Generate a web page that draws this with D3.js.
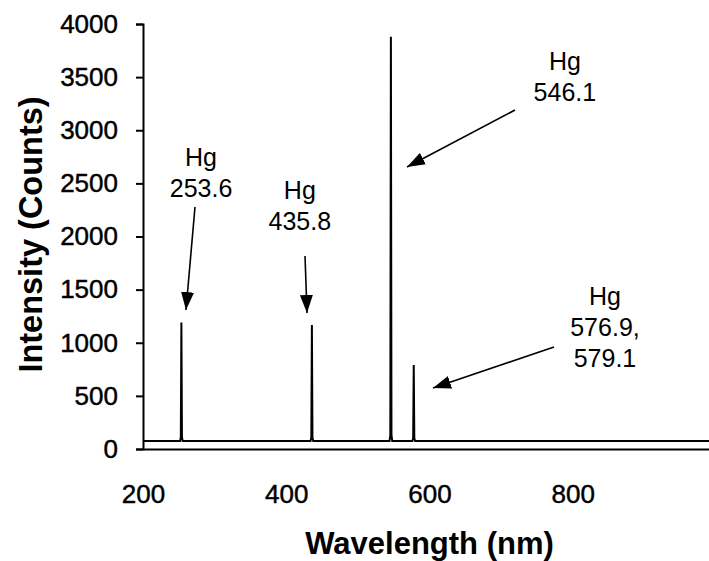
<!DOCTYPE html>
<html>
<head>
<meta charset="utf-8">
<script src="https://cdn.jsdelivr.net/npm/d3@7"></script>
<style>
  html, body { margin: 0; padding: 0; background: #fff; }
  svg { display: block; }
  text { font-family: "Liberation Sans", Arial, sans-serif; fill: #000; }
</style>
</head>
<body>
<svg id="chart" width="709" height="561"></svg>
<script>
// Mercury lamp emission spectrum: wavelength (nm) vs intensity (counts)
const wavelengths = [200, 251.8, 252.8, 253.6, 254.4, 255.4,
                     433.9, 435.0, 435.8, 436.6, 437.7,
                     544.2, 545.3, 546.1, 546.9, 548.0,
                     576.1, 577.2, 578.0, 578.8, 579.9, 1000];
const intensities = [75, 75, 110, 1190, 110, 75,
                     75, 105, 1167, 105, 75,
                     75, 130, 3880, 130, 75,
                     75, 100, 790, 100, 75, 75];

// Axis ticks
const yTicks = [0, 500, 1000, 1500, 2000, 2500, 3000, 3500, 4000];
const xTicks = [200, 400, 600, 800];

// Line annotations: label lines, label anchor and arrow (data units)
const noteLines = [["Hg", "253.6"], ["Hg", "435.8"], ["Hg", "546.1"], ["Hg", "576.9,", "579.1"]];
const noteX = [281, 419, 789, 845];
const noteY = [2660, 2350, 3567, 1355];
const arrowFromX = [272.6, 426.2, 719.4, 773.8];
const arrowFromY = [2278, 1816, 3190, 960];
const arrowToX = [260, 429, 568.6, 604.9];
const arrowToY = [1308, 1280, 2654, 574];

const svg = d3.select("#chart");

const x = d3.scaleLinear().domain([200, 1000]).range([143, 716]);
const y = d3.scaleLinear().domain([0, 4000]).range([449, 24]);

// Y axis
const yAxis = svg.append("g")
  .attr("transform", `translate(${x(200)},0)`)
  .call(d3.axisLeft(y).tickValues(yTicks).tickFormat(d3.format("d"))
    .tickSize(7).tickSizeOuter(7).tickPadding(18));
yAxis.select(".domain").attr("stroke", "#000").attr("stroke-width", 2);
yAxis.selectAll(".tick line").attr("stroke", "#000").attr("stroke-width", 2);
yAxis.selectAll(".tick text")
  .attr("font-size", 26)
  .attr("font-family", "Liberation Sans, Arial, sans-serif")
  .attr("fill", "#000")
  .attr("stroke", "#000").attr("stroke-width", 0.45);

// X axis (line only, labels placed below)
const xAxis = svg.append("g")
  .attr("transform", `translate(0,${y(0)})`)
  .call(d3.axisBottom(x).tickValues(xTicks).tickFormat(d3.format("d"))
    .tickSize(0).tickSizeOuter(0).tickPadding(36));
xAxis.select(".domain").attr("stroke", "#000").attr("stroke-width", 2);
xAxis.selectAll(".tick text")
  .attr("font-size", 26)
  .attr("font-family", "Liberation Sans, Arial, sans-serif")
  .attr("fill", "#000")
  .attr("stroke", "#000").attr("stroke-width", 0.45);

// Axis titles
svg.append("text")
  .attr("x", (x(200) + 716) / 2)
  .attr("y", 554)
  .attr("text-anchor", "middle")
  .attr("font-size", 31)
  .attr("font-weight", "bold")
  .text("Wavelength (nm)");

svg.append("text")
  .attr("transform", `translate(42,${(y(0) + y(4000)) / 2 - 2}) rotate(-90)`)
  .attr("text-anchor", "middle")
  .attr("font-size", 32.5)
  .attr("font-weight", "bold")
  .text("Intensity (Counts)");

// Spectrum trace
const spectrum = wavelengths.map((w, i) => [w, intensities[i]]);
svg.append("path")
  .datum(spectrum)
  .attr("fill", "none")
  .attr("stroke", "#000")
  .attr("stroke-width", 2)
  .attr("stroke-linejoin", "miter")
  .attr("d", d3.line().x(d => x(d[0])).y(d => y(d[1])));

// Arrow marker
svg.append("defs").append("marker")
  .attr("id", "head")
  .attr("viewBox", "0 0 18 13")
  .attr("refX", 18).attr("refY", 6.5)
  .attr("markerWidth", 18).attr("markerHeight", 13)
  .attr("markerUnits", "userSpaceOnUse")
  .attr("orient", "auto")
  .append("path")
  .attr("d", "M0,0 L18,6.5 L0,13 Z")
  .attr("fill", "#000");

// Annotations
noteLines.forEach((lines, i) => {
  const t = svg.append("text")
    .attr("text-anchor", "middle")
    .attr("font-size", 25)
    .attr("x", x(noteX[i]))
    .attr("y", y(noteY[i]));
  lines.forEach((s, j) => {
    t.append("tspan")
      .attr("x", x(noteX[i]))
      .attr("dy", j === 0 ? 0 : 31)
      .text(s);
  });
  svg.append("line")
    .attr("x1", x(arrowFromX[i])).attr("y1", y(arrowFromY[i]))
    .attr("x2", x(arrowToX[i])).attr("y2", y(arrowToY[i]))
    .attr("stroke", "#000")
    .attr("stroke-width", 1.6)
    .attr("marker-end", "url(#head)");
});
</script>
</body>
</html>
